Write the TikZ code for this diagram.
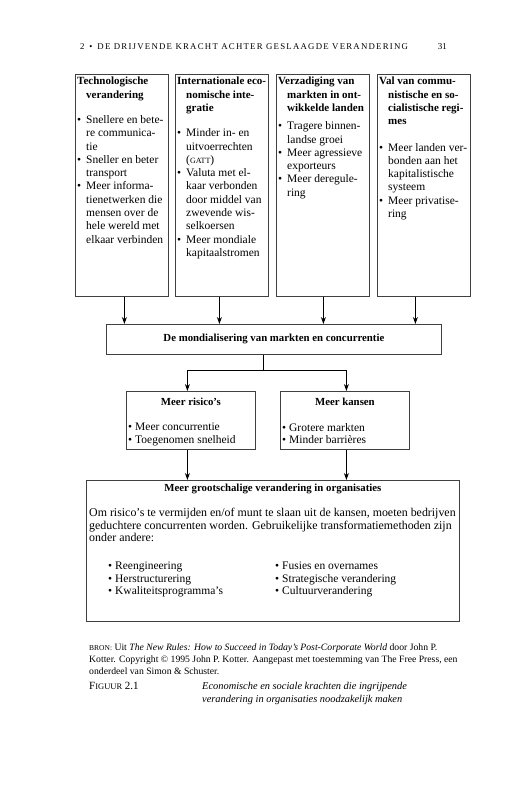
\documentclass[tikz,border=0pt]{standalone}
\usepackage{fontspec}
\setmainfont{Liberation Serif}
\usetikzlibrary{arrows.meta}
\newcommand\hind{\hspace*{9pt}}
\newcommand\bul{\makebox[9pt][l]{•}}
\newcommand\sbul{\makebox[7pt][l]{•}}
\newcommand\fsc[1]{{\fontsize{8}{9}\selectfont #1}}
\newcommand\ttl[1]{{\fontsize{11}{13.3}\selectfont\bfseries #1}}
\begin{document}
\begin{tikzpicture}[x=1pt,y=-1pt,
  box/.style={draw=black!75, line width=0.8pt, inner sep=0pt, anchor=north west},
  arr/.style={-{Stealth[length=7pt,width=5pt]}, line width=1pt},
  ln/.style={line width=1pt},
  txt/.style={anchor=north west, inner sep=0pt, align=left, font=\fontsize{11.5}{13.3}\selectfont},
  head/.style={inner sep=0pt, font=\fontsize{10.8}{13}\selectfont\bfseries},
  small/.style={anchor=north west, inner sep=0pt, align=left, font=\fontsize{9.7}{12}\selectfont}]
\useasboundingbox (0,0) rectangle (510,800);
\fill[white] (0,0) rectangle (510,800);

% running header
\node[anchor=base west, inner sep=0pt, font=\fontsize{8.8}{10}\selectfont\addfontfeatures{LetterSpace=14}] (hdr) at (80,50) {2 \,•\, DE DRIJVENDE KRACHT ACHTER GESLAAGDE VERANDERING};
\node[anchor=base east, inner sep=0pt, font=\fontsize{9}{10}\selectfont] (pg) at (447,50) {31};

% top boxes
\node[box, minimum width=93pt, minimum height=222pt] (b1) at (75,74) {};
\node[box, minimum width=93pt, minimum height=222pt] (b2) at (175,74) {};
\node[box, minimum width=93pt, minimum height=222pt] (b3) at (276,74) {};
\node[box, minimum width=93pt, minimum height=222pt] (b4) at (377,74) {};

\node[txt] (t1) at ([xshift=2pt,yshift=-3pt]b1.north west) {%
\ttl{Technologische}\\
\hind\ttl{verandering}\\[12pt]
\bul Snellere en bete-\\
\hind re communica-\\
\hind tie\\
\bul Sneller en beter\\
\hind transport\\
\bul Meer informa-\\
\hind tienetwerken die\\
\hind mensen over de\\
\hind hele wereld met\\
\hind elkaar verbinden};

\node[txt] (t2) at ([xshift=2pt,yshift=-3pt]b2.north west) {%
\ttl{Internationale eco-}\\
\hind\ttl{nomische inte-}\\
\hind\ttl{gratie}\\[12pt]
\bul Minder in- en\\
\hind uitvoerrechten\\
\hind (\fsc{GATT})\\
\bul Valuta met el-\\
\hind kaar verbonden\\
\hind door middel van\\
\hind zwevende wis-\\
\hind selkoersen\\
\bul Meer mondiale\\
\hind kapitaalstromen};

\node[txt] (t3) at ([xshift=2pt,yshift=-3pt]b3.north west) {%
\ttl{Verzadiging van}\\
\hind\ttl{markten in ont-}\\
\hind\ttl{wikkelde landen}\\[5pt]
\bul Tragere binnen-\\
\hind landse groei\\
\bul Meer agressieve\\
\hind exporteurs\\
\bul Meer deregule-\\
\hind ring};

\node[txt] (t4) at ([xshift=2pt,yshift=-3pt]b4.north west) {%
\ttl{Val van commu-}\\
\hind\ttl{nistische en so-}\\
\hind\ttl{cialistische regi-}\\
\hind\ttl{mes}\\[13pt]
\bul Meer landen ver-\\
\hind bonden aan het\\
\hind kapitalistische\\
\hind systeem\\
\bul Meer privatise-\\
\hind ring};

% globalisation box
\node[box, minimum width=335pt, minimum height=30pt] (m) at (106,324) {};
\node[head] (mt) at (m.center) {De mondialisering van markten en concurrentie};

\draw[arr] ([xshift=2.5pt]b1.south) -- ([xshift=2.5pt]b1.south |- m.north);
\draw[arr] ([xshift=-2.5pt]b2.south) -- ([xshift=-2.5pt]b2.south |- m.north);
\draw[arr] ([xshift=0.5pt]b3.south) -- ([xshift=0.5pt]b3.south |- m.north);
\draw[arr] ([xshift=-8.5pt]b4.south) -- ([xshift=-8.5pt]b4.south |- m.north);

% risks and chances
\node[box, minimum width=129pt, minimum height=58pt] (r) at (126,391) {};
\node[box, minimum width=129pt, minimum height=58pt] (k) at (280,391) {};
\node[head, anchor=base] (rt) at ([yshift=-14pt]r.north) {Meer risico's};
\node[head, anchor=base] (kt) at ([yshift=-14pt]k.north) {Meer kansen};
\node[txt, font=\fontsize{11.5}{12.2}\selectfont] (rb) at ([xshift=2pt,yshift=-32pt]r.north west) {%
\sbul Meer concurrentie\\
\sbul Toegenomen snelheid};
\node[txt, font=\fontsize{11.5}{12.2}\selectfont] (kb) at ([xshift=2pt,yshift=-32pt]k.north west) {%
\sbul Grotere markten\\
\sbul Minder barrières};

\coordinate (split) at ([xshift=-10.5pt,yshift=-16pt]m.south);
\draw[ln] ([xshift=-10.5pt]m.south) -- (split);
\draw[arr] (split) -| ([xshift=-3.5pt]r.north);
\draw[arr] (split) -| ([xshift=1.5pt]k.north);

% large box
\node[box, minimum width=373pt, minimum height=141pt] (g) at (86,480) {};
\node[head, anchor=base] (gt) at ([yshift=-11pt]g.north) {Meer grootschalige verandering in organisaties};
\node[txt, font=\fontsize{11.9}{12.6}\selectfont] (gp) at ([xshift=3pt,yshift=-28pt]g.north west) {%
Om risico's te vermijden en/of munt te slaan uit de kansen, moeten bedrijven\\
geduchtere concurrenten worden. Gebruikelijke transformatiemethoden zijn\\
onder andere:};
\node[txt, font=\fontsize{11.5}{12.2}\selectfont] (gl) at ([xshift=22pt,yshift=-82pt]g.north west) {%
\sbul Reengineering\\
\sbul Herstructurering\\
\sbul Kwaliteitsprogramma's};
\node[txt, font=\fontsize{11.5}{12.2}\selectfont] (gr) at ([xshift=189pt,yshift=-82pt]g.north west) {%
\sbul Fusies en overnames\\
\sbul Strategische verandering\\
\sbul Cultuurverandering};

\draw[arr] ([xshift=-3.5pt]r.south) -- ([xshift=-3.5pt]r.south |- g.north);
\draw[arr] ([xshift=1.5pt]k.south) -- ([xshift=1.5pt]k.south |- g.north);

% source and caption
\node[small] (src) at (89,644) {%
{\fontsize{7.5}{12}\selectfont BRON:} Uit \textit{The New Rules: How to Succeed in Today's Post-Corporate World} door John P.\\
Kotter. Copyright © 1995 John P. Kotter. Aangepast met toestemming van The Free Press, een\\
onderdeel van Simon \& Schuster.};
\node[anchor=base west, inner sep=0pt, font=\fontsize{11}{13}\selectfont] (fig) at (89,689) {F{\fontsize{8.5}{13}\selectfont IGUUR} 2.1};
\node[anchor=base west, inner sep=0pt, align=left, font=\fontsize{10.4}{13}\selectfont\itshape] (cap) at (202,702) {Economische en sociale krachten die ingrijpende\\verandering in organisaties noodzakelijk maken};
\end{tikzpicture}
\end{document}
